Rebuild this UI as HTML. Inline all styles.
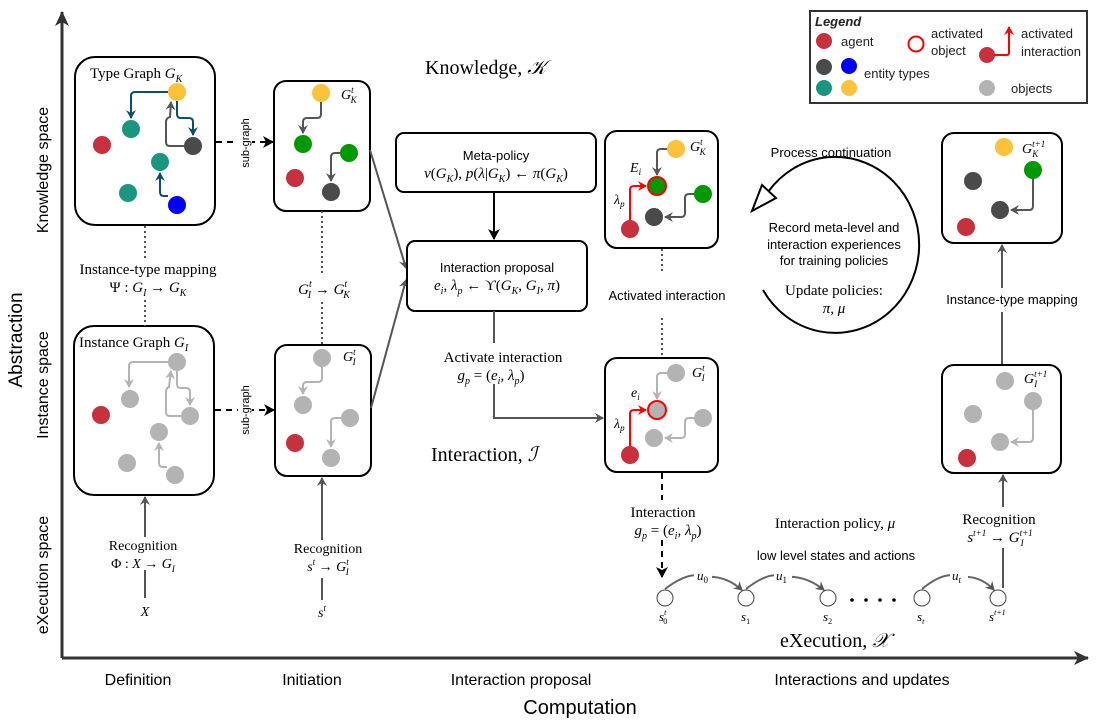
<!DOCTYPE html>
<html><head><meta charset="utf-8"><style>
html,body{margin:0;padding:0;background:#fff;}
svg{display:block;}
.s{font-family:"Liberation Sans",sans-serif;}
.m{font-family:"Liberation Serif",serif;}
</style></head><body>
<svg width="1110" height="723" viewBox="0 0 1110 723" xmlns="http://www.w3.org/2000/svg">
<defs>
<marker id="ag" markerWidth="10" markerHeight="10" refX="8" refY="5" orient="auto" markerUnits="userSpaceOnUse"><path d="M0,0 L9,5 L0,10 L3,5 z" fill="#555"/></marker>
<marker id="ab" markerWidth="10" markerHeight="10" refX="8" refY="5" orient="auto" markerUnits="userSpaceOnUse"><path d="M0,0 L9,5 L0,10 L3,5 z" fill="#0b4f6c"/></marker>
<marker id="al" markerWidth="10" markerHeight="10" refX="8" refY="5" orient="auto" markerUnits="userSpaceOnUse"><path d="M0,0 L9,5 L0,10 L3,5 z" fill="#b3b3b3"/></marker>
<marker id="ar" markerWidth="10" markerHeight="10" refX="8" refY="5" orient="auto" markerUnits="userSpaceOnUse"><path d="M0,0 L9,5 L0,10 L3,5 z" fill="#f00"/></marker>
<marker id="ak" markerWidth="12" markerHeight="12" refX="10" refY="6" orient="auto" markerUnits="userSpaceOnUse"><path d="M0,0 L11,6 L0,12 L3,6 z" fill="#000"/></marker>
<marker id="ax" markerWidth="16" markerHeight="14" refX="14" refY="7" orient="auto" markerUnits="userSpaceOnUse"><path d="M0,0 L15,7 L0,14 L4,7 z" fill="#333"/></marker>
</defs>

<!-- axes -->
<line x1="62" y1="658" x2="62" y2="12" stroke="#333" stroke-width="3" marker-end="url(#ax)"/>
<line x1="62" y1="658" x2="1088" y2="658" stroke="#333" stroke-width="3" marker-end="url(#ax)"/>

<g class="s" font-size="19" fill="#000">
<text transform="translate(22,340) rotate(-90)" text-anchor="middle">Abstraction</text>
</g>
<g class="s" font-size="16" fill="#000" text-anchor="middle">
<text transform="translate(48,170) rotate(-90)">Knowledge space</text>
<text transform="translate(48,385) rotate(-90)">Instance space</text>
<text transform="translate(48,575) rotate(-90)">eXecution space</text>
<text x="138" y="685">Definition</text>
<text x="312" y="685">Initiation</text>
<text x="521" y="685">Interaction proposal</text>
<text x="862" y="685">Interactions and updates</text>
<text x="580" y="714" font-size="20">Computation</text>
</g>

<!-- Legend -->
<rect x="810" y="11" width="277" height="92" fill="#fff" stroke="#333" stroke-width="2"/>
<g class="s" font-size="13" fill="#222">
<text x="815" y="26" font-weight="bold" font-style="italic">Legend</text>
<circle cx="824" cy="41" r="8" fill="#c8303e"/><text x="841" y="46">agent</text>
<circle cx="824" cy="67" r="8" fill="#4a4a4a"/><circle cx="849" cy="66" r="8" fill="#0000ff"/>
<circle cx="824" cy="88" r="8" fill="#1a967e"/><circle cx="849" cy="88" r="8" fill="#fcc33a"/>
<text x="864" y="78">entity types</text>
<circle cx="916" cy="44" r="7.5" fill="none" stroke="#f00" stroke-width="2"/>
<text x="931" y="38">activated</text><text x="931" y="55">object</text>
<circle cx="987" cy="55" r="8" fill="#c8303e"/>
<path d="M994,55 L1007,55 Q1009,55 1009,52 L1009,27" fill="none" stroke="#f00" stroke-width="2" marker-end="url(#ar)"/>
<text x="1021" y="38">activated</text><text x="1021" y="56">interaction</text>
<circle cx="987" cy="88" r="8" fill="#b3b3b3"/><text x="1011" y="93">objects</text>
</g>

<!-- Type graph box -->
<rect x="75" y="57" width="140" height="168" rx="20" fill="#fff" stroke="#000" stroke-width="2"/>
<text class="m" x="90" y="78" font-size="15">Type Graph <tspan font-style="italic">G</tspan><tspan font-style="italic" font-size="10" dy="4">K</tspan></text>
<path d="M168,92 L135,92 Q131,92 131,96 L131,118" fill="none" stroke="#0b4f6c" stroke-width="2" marker-end="url(#ab)"/>
<path d="M177,100 L177,114 Q177,118 181,118 L189,118 Q193,118 193,122 L193,135" fill="none" stroke="#0b4f6c" stroke-width="2" marker-end="url(#ab)"/>
<path d="M184,146 L170,146 Q166,146 166,142 L166,122 Q166,118 170,117 L171,102" fill="none" stroke="#555" stroke-width="2" marker-end="url(#ag)"/>
<path d="M168,196 L164,196 Q160,196 160,192 L160,173" fill="none" stroke="#0b4f6c" stroke-width="2" marker-end="url(#ab)"/>
<circle cx="177" cy="92" r="9" fill="#fcc33a"/>
<circle cx="131" cy="129" r="9" fill="#1a967e"/>
<circle cx="102" cy="145" r="9" fill="#c8303e"/>
<circle cx="193" cy="146" r="9" fill="#4a4a4a"/>
<circle cx="160" cy="162" r="9" fill="#1a967e"/>
<circle cx="128" cy="193" r="9" fill="#1a967e"/>
<circle cx="177" cy="205" r="9" fill="#0000ff"/>

<!-- Instance graph box -->
<rect x="74" y="326" width="140" height="169" rx="20" fill="#fff" stroke="#000" stroke-width="2"/>
<text class="m" x="79" y="347" font-size="15">Instance Graph <tspan font-style="italic">G</tspan><tspan font-style="italic" font-size="10" dy="4">I</tspan></text>
<path d="M168,362 L133,362 Q129,362 129,366 L129,387" fill="none" stroke="#b3b3b3" stroke-width="2" marker-end="url(#al)"/>
<path d="M177,370 L177,384 Q177,388 181,388 L186,388 Q190,388 190,392 L190,405" fill="none" stroke="#b3b3b3" stroke-width="2" marker-end="url(#al)"/>
<path d="M181,416 L170,416 Q166,416 166,412 L166,392 Q166,388 169,387 L171,371" fill="none" stroke="#b3b3b3" stroke-width="2" marker-end="url(#al)"/>
<path d="M167,467 L163,467 Q159,467 159,463 L159,443" fill="none" stroke="#b3b3b3" stroke-width="2" marker-end="url(#al)"/>
<circle cx="177" cy="362" r="9" fill="#b3b3b3"/>
<circle cx="130" cy="399" r="9" fill="#b3b3b3"/>
<circle cx="101" cy="415" r="9" fill="#c8303e"/>
<circle cx="190" cy="416" r="9" fill="#b3b3b3"/>
<circle cx="159" cy="432" r="9" fill="#b3b3b3"/>
<circle cx="127" cy="463" r="9" fill="#b3b3b3"/>
<circle cx="175" cy="475" r="9" fill="#b3b3b3"/>

<!-- mapping text -->
<line x1="145" y1="226" x2="145" y2="258" stroke="#555" stroke-width="2" stroke-dasharray="2,3"/>
<line x1="145" y1="300" x2="145" y2="326" stroke="#555" stroke-width="2" stroke-dasharray="2,3"/>
<g class="m" font-size="15" text-anchor="middle">
<text x="148" y="274">Instance-type mapping</text>
<text x="148" y="292">Ψ : <tspan font-style="italic">G</tspan><tspan font-size="10" font-style="italic" dy="4">I</tspan><tspan dy="-4"> → </tspan><tspan font-style="italic">G</tspan><tspan font-size="10" font-style="italic" dy="4">K</tspan></text>
<text x="324" y="294"><tspan font-style="italic">G</tspan><tspan font-size="10" font-style="italic" dy="-7">t</tspan><tspan font-size="10" font-style="italic" dx="-4" dy="11">I</tspan><tspan dy="-4"> → </tspan><tspan font-style="italic">G</tspan><tspan font-size="10" font-style="italic" dy="-7">t</tspan><tspan font-size="10" font-style="italic" dx="-4" dy="11">K</tspan></text>
</g>

<!-- sub-graph arrows -->
<line x1="216" y1="142" x2="273" y2="142" stroke="#000" stroke-width="2" stroke-dasharray="6,5" marker-end="url(#ak)"/>
<line x1="215" y1="410" x2="274" y2="410" stroke="#000" stroke-width="2" stroke-dasharray="6,5" marker-end="url(#ak)"/>
<rect x="238" y="118" width="14" height="50" fill="#fff"/>
<rect x="238" y="384" width="14" height="50" fill="#fff"/>
<g class="s" font-size="11">
<text transform="translate(249,143) rotate(-90)" text-anchor="middle">sub-graph</text>
<text transform="translate(249,410) rotate(-90)" text-anchor="middle">sub-graph</text>
</g>

<!-- G_K^t box -->
<rect x="274" y="81" width="96" height="130" rx="12" fill="#fff" stroke="#000" stroke-width="2"/>
<text class="m" x="341" y="99" font-size="14" font-style="italic">G<tspan font-size="9" dy="-6">t</tspan><tspan font-size="9" dx="-3" dy="10">K</tspan></text>
<path d="M321,101 L321,114 Q321,118 317,118 L307,118 Q303,118 303,122 L303,133" fill="none" stroke="#555" stroke-width="2" marker-end="url(#ag)"/>
<path d="M340,153 L335,153 Q331,153 331,157 L331,181" fill="none" stroke="#555" stroke-width="2" marker-end="url(#ag)"/>
<circle cx="321" cy="93" r="9" fill="#fcc33a"/>
<circle cx="303" cy="144" r="9" fill="#009900"/>
<circle cx="295" cy="178" r="9" fill="#c8303e"/>
<circle cx="349" cy="153" r="9" fill="#009900"/>
<circle cx="331" cy="192" r="9" fill="#4a4a4a"/>

<!-- G_I^t box -->
<rect x="275" y="345" width="96" height="131" rx="12" fill="#fff" stroke="#000" stroke-width="2"/>
<text class="m" x="343" y="361" font-size="14" font-style="italic">G<tspan font-size="9" dy="-6">t</tspan><tspan font-size="9" dx="-3" dy="10">I</tspan></text>
<path d="M341,418 L335,418 Q331,418 331,422 L331,447" fill="none" stroke="#b3b3b3" stroke-width="2" marker-end="url(#al)"/>
<path d="M322,366 L322,378 Q322,382 318,382 L307,382 Q303,382 303,386 L303,394" fill="none" stroke="#b3b3b3" stroke-width="2" marker-end="url(#al)"/>
<circle cx="322" cy="358" r="9" fill="#b3b3b3"/>
<circle cx="303" cy="405" r="9" fill="#b3b3b3"/>
<circle cx="295" cy="443" r="9" fill="#c8303e"/>
<circle cx="350" cy="418" r="9" fill="#b3b3b3"/>
<circle cx="331" cy="458" r="9" fill="#b3b3b3"/>

<line x1="322" y1="211" x2="322" y2="275" stroke="#555" stroke-width="2" stroke-dasharray="2,3"/>
<line x1="322" y1="302" x2="322" y2="345" stroke="#555" stroke-width="2" stroke-dasharray="2,3"/>

<!-- recognition left -->
<line x1="145" y1="598" x2="145" y2="570" stroke="#555" stroke-width="2"/>
<line x1="145" y1="537" x2="145" y2="497" stroke="#555" stroke-width="2" marker-end="url(#ag)"/>
<g class="m" font-size="14" text-anchor="middle">
<text x="143" y="550">Recognition</text>
<text x="143" y="568">Φ : <tspan font-style="italic">X</tspan> → <tspan font-style="italic">G</tspan><tspan font-size="9" font-style="italic" dy="4">I</tspan></text>
<text x="145" y="616" font-style="italic">X</text>
<text x="328" y="553">Recognition</text>
<text x="328" y="571"><tspan font-style="italic">s</tspan><tspan font-size="9" font-style="italic" dy="-6">t</tspan><tspan dy="6"> → </tspan><tspan font-style="italic">G</tspan><tspan font-size="9" font-style="italic" dy="-6">t</tspan><tspan font-size="9" font-style="italic" dx="-3" dy="10">I</tspan></text>
<text x="322" y="617" font-style="italic">s<tspan font-size="9" dy="-6">t</tspan></text>
</g>
<line x1="322" y1="600" x2="322" y2="578" stroke="#555" stroke-width="2"/>
<line x1="322" y1="540" x2="322" y2="478" stroke="#555" stroke-width="2" marker-end="url(#ag)"/>

<!-- Knowledge / Interaction / Execution titles -->
<g class="m" font-size="20">
<text x="425" y="74">Knowledge, <tspan font-style="italic">𝒦</tspan></text>
<text x="431" y="461">Interaction, <tspan font-style="italic">ℐ</tspan></text>
<text x="780" y="647">eXecution, <tspan font-style="italic">𝒳</tspan></text>
</g>

<!-- lines to proposal -->
<line x1="370" y1="150" x2="406" y2="268" stroke="#555" stroke-width="2" marker-end="url(#ag)"/>
<line x1="371" y1="408" x2="406" y2="280" stroke="#555" stroke-width="2" marker-end="url(#ag)"/>

<!-- Meta-policy -->
<rect x="396" y="133" width="200" height="59" rx="8" fill="#fff" stroke="#000" stroke-width="2"/>
<text class="s" x="496" y="160" font-size="13" text-anchor="middle">Meta-policy</text>
<text class="m" x="496" y="178" font-size="15" text-anchor="middle"><tspan font-style="italic">v</tspan>(<tspan font-style="italic">G</tspan><tspan font-size="10" font-style="italic" dy="4">K</tspan><tspan dy="-4">), </tspan><tspan font-style="italic">p</tspan>(<tspan font-style="italic">λ</tspan>|<tspan font-style="italic">G</tspan><tspan font-size="10" font-style="italic" dy="4">K</tspan><tspan dy="-4">) ← </tspan><tspan font-style="italic">π</tspan>(<tspan font-style="italic">G</tspan><tspan font-size="10" font-style="italic" dy="4">K</tspan><tspan dy="-4">)</tspan></text>
<line x1="494" y1="193" x2="494" y2="239" stroke="#000" stroke-width="2" marker-end="url(#ak)"/>

<!-- Interaction proposal -->
<rect x="407" y="241" width="180" height="70" rx="8" fill="#fff" stroke="#000" stroke-width="2"/>
<text class="s" x="497" y="272" font-size="13" text-anchor="middle">Interaction proposal</text>
<text class="m" x="497" y="290" font-size="15" text-anchor="middle"><tspan font-style="italic">e</tspan><tspan font-size="10" font-style="italic" dy="4">i</tspan><tspan dy="-4">, </tspan><tspan font-style="italic">λ</tspan><tspan font-size="10" font-style="italic" dy="4">p</tspan><tspan dy="-4"> ← ϒ(</tspan><tspan font-style="italic">G</tspan><tspan font-size="10" font-style="italic" dy="4">K</tspan><tspan dy="-4">, </tspan><tspan font-style="italic">G</tspan><tspan font-size="10" font-style="italic" dy="4">I</tspan><tspan dy="-4">, </tspan><tspan font-style="italic">π</tspan>)</text>
<polyline points="494,311 494,343" fill="none" stroke="#555" stroke-width="2"/>
<polyline points="494,384 494,418 603,418" fill="none" stroke="#555" stroke-width="2" marker-end="url(#ag)"/>
<g class="m" font-size="15" text-anchor="middle">
<text x="503" y="362">Activate interaction</text>
<text x="491" y="380"><tspan font-style="italic">g</tspan><tspan font-size="10" font-style="italic" dy="4">p</tspan><tspan dy="-4"> = (</tspan><tspan font-style="italic">e</tspan><tspan font-size="10" font-style="italic" dy="4">i</tspan><tspan dy="-4">, </tspan><tspan font-style="italic">λ</tspan><tspan font-size="10" font-style="italic" dy="4">p</tspan><tspan dy="-4">)</tspan></text>
</g>

<!-- Activated G_K^t -->
<rect x="605" y="131" width="113" height="117" rx="12" fill="#fff" stroke="#000" stroke-width="2"/>
<text class="m" x="690" y="151" font-size="14" font-style="italic">G<tspan font-size="9" dy="-6">t</tspan><tspan font-size="9" dx="-3" dy="10">K</tspan></text>
<path d="M668,149 L661,149 Q657,149 657,153 L657,175" fill="none" stroke="#555" stroke-width="2" marker-end="url(#ag)"/>
<path d="M630,221 L630,190 Q630,186 634,186 L646,186" fill="none" stroke="#f00" stroke-width="2" marker-end="url(#ar)"/>
<path d="M694,194 L689,194 Q685,194 685,198 L685,213 Q685,217 681,217 L665,217" fill="none" stroke="#555" stroke-width="2" marker-end="url(#ag)"/>
<circle cx="676" cy="149" r="9" fill="#fcc33a"/>
<circle cx="657" cy="186" r="9" fill="#009900" stroke="#f00" stroke-width="2"/>
<circle cx="703" cy="194" r="9" fill="#009900"/>
<circle cx="654" cy="217" r="9" fill="#4a4a4a"/>
<circle cx="630" cy="229" r="9" fill="#c8303e"/>
<text class="m" x="630" y="172" font-size="14" font-style="italic">E<tspan font-size="9" dy="3">i</tspan></text>
<text class="m" x="614" y="204" font-size="14" font-style="italic">λ<tspan font-size="9" dy="3">p</tspan></text>

<line x1="662" y1="249" x2="662" y2="272" stroke="#555" stroke-width="2" stroke-dasharray="2,3"/>
<text class="s" x="667" y="300" font-size="13" text-anchor="middle">Activated interaction</text>
<line x1="662" y1="318" x2="662" y2="357" stroke="#555" stroke-width="2" stroke-dasharray="2,3"/>

<!-- Activated G_I^t -->
<rect x="605" y="358" width="113" height="114" rx="12" fill="#fff" stroke="#000" stroke-width="2"/>
<text class="m" x="692" y="377" font-size="14" font-style="italic">G<tspan font-size="9" dy="-6">t</tspan><tspan font-size="9" dx="-3" dy="10">I</tspan></text>
<path d="M668,373 L661,373 Q657,373 657,377 L657,399" fill="none" stroke="#b3b3b3" stroke-width="2" marker-end="url(#al)"/>
<path d="M630,447 L630,414 Q630,410 634,410 L646,410" fill="none" stroke="#f00" stroke-width="2" marker-end="url(#ar)"/>
<path d="M694,418 L689,418 Q685,418 685,422 L685,434 Q685,438 681,438 L665,438" fill="none" stroke="#b3b3b3" stroke-width="2" marker-end="url(#al)"/>
<circle cx="676" cy="373" r="9" fill="#b3b3b3"/>
<circle cx="657" cy="410" r="9" fill="#b3b3b3" stroke="#f00" stroke-width="2"/>
<circle cx="703" cy="418" r="9" fill="#b3b3b3"/>
<circle cx="654" cy="438" r="9" fill="#b3b3b3"/>
<circle cx="630" cy="455" r="9" fill="#c8303e"/>
<text class="m" x="631" y="397" font-size="14" font-style="italic">e<tspan font-size="9" dy="3">i</tspan></text>
<text class="m" x="614" y="428" font-size="14" font-style="italic">λ<tspan font-size="9" dy="3">p</tspan></text>

<!-- interaction dashed down -->
<line x1="662" y1="473" x2="662" y2="500" stroke="#000" stroke-width="2" stroke-dasharray="6,5"/>
<line x1="662" y1="540" x2="662" y2="577" stroke="#000" stroke-width="2" stroke-dasharray="6,5" marker-end="url(#ak)"/>
<g class="m" font-size="15" text-anchor="middle">
<text x="663" y="517">Interaction</text>
<text x="668" y="535"><tspan font-style="italic">g</tspan><tspan font-size="10" font-style="italic" dy="4">p</tspan><tspan dy="-4"> = (</tspan><tspan font-style="italic">e</tspan><tspan font-size="10" font-style="italic" dy="4">i</tspan><tspan dy="-4">, </tspan><tspan font-style="italic">λ</tspan><tspan font-size="10" font-style="italic" dy="4">p</tspan><tspan dy="-4">)</tspan></text>
<text x="835" y="528">Interaction policy, <tspan font-style="italic">μ</tspan></text>
</g>
<text class="s" x="836" y="560" font-size="13" text-anchor="middle">low level states and actions</text>

<!-- execution states -->
<g fill="#fff" stroke="#444" stroke-width="1">
<circle cx="665" cy="598" r="8"/><circle cx="746" cy="598" r="8"/><circle cx="828" cy="598" r="8"/><circle cx="922" cy="598" r="8"/><circle cx="998" cy="598" r="8"/>
</g>
<g fill="none" stroke="#666" stroke-width="2">
<path d="M665,589 Q690,570 705,577 Q725,575 742,590" marker-end="url(#ag)"/>
<path d="M746,589 Q770,570 785,577 Q805,575 824,590" marker-end="url(#ag)"/>
<path d="M922,589 Q945,570 960,577 Q980,575 994,590" marker-end="url(#ag)"/>
</g>
<g class="m" font-size="13" font-style="italic">
<rect x="694" y="569" width="18" height="13" fill="#fff"/><text x="697" y="580">u<tspan font-size="9" dy="3" font-style="normal">0</tspan></text>
<rect x="774" y="569" width="18" height="13" fill="#fff"/><text x="776" y="580">u<tspan font-size="9" dy="3" font-style="normal">1</tspan></text>
<rect x="950" y="569" width="18" height="13" fill="#fff"/><text x="952" y="580">u<tspan font-size="9" dy="3">t</tspan></text>
<text x="659" y="621">s<tspan font-size="8" dy="-6">t</tspan><tspan font-size="8" font-style="normal" dx="-3" dy="9">0</tspan></text>
<text x="741" y="621">s<tspan font-size="8" font-style="normal" dy="3">1</tspan></text>
<text x="823" y="621">s<tspan font-size="8" font-style="normal" dy="3">2</tspan></text>
<text x="917" y="621">s<tspan font-size="8" dy="3">t</tspan></text>
<text x="989" y="621">s<tspan font-size="8" dy="-6">t+1</tspan></text>
</g>
<g fill="#000"><circle cx="852" cy="600" r="1.8"/><circle cx="866" cy="600" r="1.8"/><circle cx="880" cy="600" r="1.8"/><circle cx="894" cy="600" r="1.8"/></g>

<!-- right recognition -->
<line x1="1003" y1="588" x2="1003" y2="548" stroke="#555" stroke-width="2"/>
<line x1="1003" y1="507" x2="1003" y2="475" stroke="#555" stroke-width="2" marker-end="url(#ag)"/>
<g class="m" font-size="15" text-anchor="middle">
<text x="999" y="524">Recognition</text>
<text x="1000" y="542"><tspan font-style="italic">s</tspan><tspan font-size="9" font-style="italic" dy="-6">t+1</tspan><tspan dy="6"> → </tspan><tspan font-style="italic">G</tspan><tspan font-size="9" font-style="italic" dy="-6">t+1</tspan><tspan font-size="9" font-style="italic" dx="-12" dy="10">I</tspan></text>
</g>
<line x1="1002" y1="365" x2="1002" y2="312" stroke="#555" stroke-width="2"/>
<line x1="1002" y1="288" x2="1002" y2="245" stroke="#555" stroke-width="2" marker-end="url(#ag)"/>
<text class="s" x="1012" y="304" font-size="13" text-anchor="middle">Instance-type mapping</text>

<!-- G_K^{t+1} -->
<rect x="942" y="133" width="120" height="110" rx="12" fill="#fff" stroke="#000" stroke-width="2"/>
<text class="m" x="1022" y="153" font-size="14" font-style="italic">G<tspan font-size="9" dy="-6">t+1</tspan><tspan font-size="9" dx="-13" dy="10">K</tspan></text>
<path d="M1033,178 L1033,206 Q1033,210 1029,210 L1011,210" fill="none" stroke="#555" stroke-width="2" marker-end="url(#ag)"/>
<circle cx="1004" cy="147" r="9" fill="#fcc33a"/>
<circle cx="1033" cy="170" r="9" fill="#009900"/>
<circle cx="973" cy="181" r="9" fill="#4a4a4a"/>
<circle cx="1000" cy="210" r="9" fill="#4a4a4a"/>
<circle cx="966" cy="227" r="9" fill="#c8303e"/>

<!-- G_I^{t+1} -->
<rect x="942" y="365" width="119" height="108" rx="12" fill="#fff" stroke="#000" stroke-width="2"/>
<text class="m" x="1024" y="383" font-size="14" font-style="italic">G<tspan font-size="9" dy="-6">t+1</tspan><tspan font-size="9" dx="-13" dy="10">I</tspan></text>
<path d="M1033,409 L1033,438 Q1033,442 1029,442 L1011,442" fill="none" stroke="#b3b3b3" stroke-width="2" marker-end="url(#al)"/>
<circle cx="1005" cy="381" r="9" fill="#b3b3b3"/>
<circle cx="1033" cy="401" r="9" fill="#b3b3b3"/>
<circle cx="973" cy="414" r="9" fill="#b3b3b3"/>
<circle cx="1000" cy="442" r="9" fill="#b3b3b3"/>
<circle cx="967" cy="458" r="9" fill="#c8303e"/>

<!-- process continuation circle -->
<path d="M763,290 A84,88 0 1 0 768,192" fill="none" stroke="#000" stroke-width="2"/>
<path d="M762,185 L752,211 L776,198 z" fill="#fff" stroke="#000" stroke-width="2"/>
<text class="s" x="831" y="157" font-size="13" text-anchor="middle">Process continuation</text>
<g class="s" font-size="13" text-anchor="middle">
<text x="834" y="232">Record meta-level and</text>
<text x="834" y="249">interaction experiences</text>
<text x="834" y="265">for training  policies</text>
</g>
<g class="m" font-size="15" text-anchor="middle">
<text x="834" y="295">Update policies:</text>
<text x="834" y="313" font-style="italic">π, μ</text>
</g>
</svg>
</body></html>
